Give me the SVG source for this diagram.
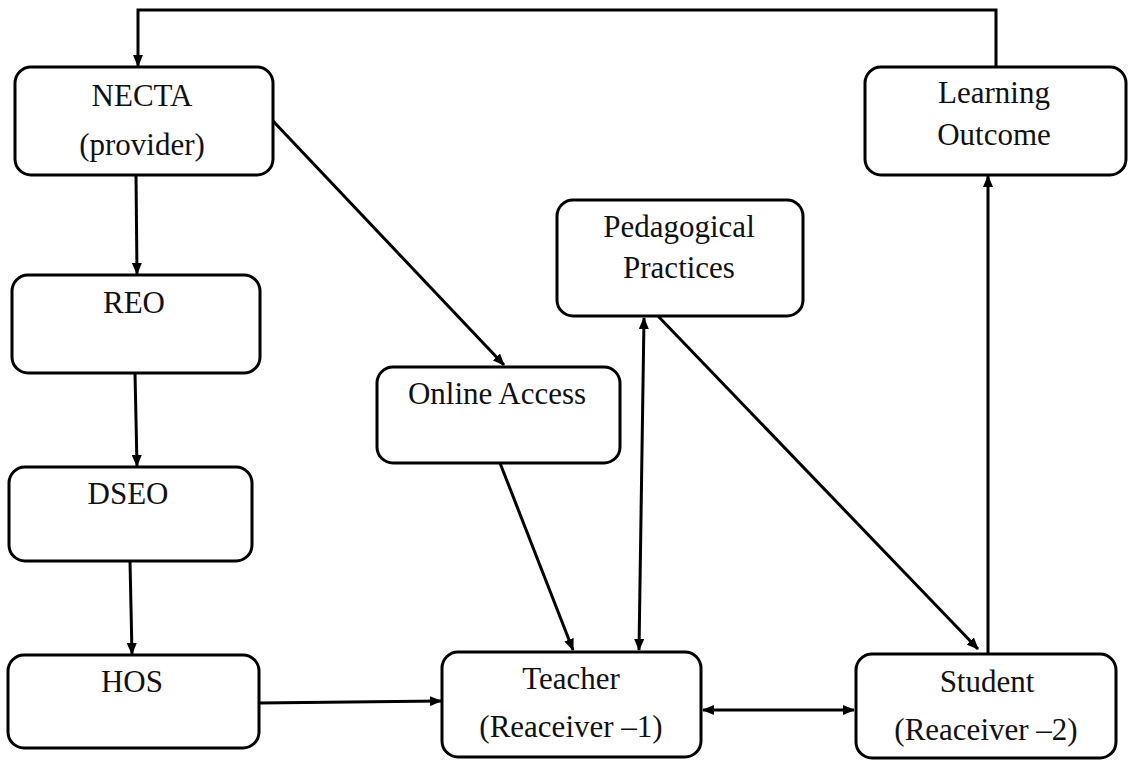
<svg xmlns="http://www.w3.org/2000/svg" width="1130" height="761" viewBox="0 0 1130 761">
<style>
.box{fill:#fff;stroke:#000;stroke-width:3}
.t{font-family:"Liberation Serif","Times New Roman",serif;font-size:31px;fill:#111;text-anchor:middle}
.c{fill:none;stroke:#000;stroke-width:3}
</style>
<defs>
<marker id="ah" markerUnits="userSpaceOnUse" markerWidth="12" markerHeight="10" refX="11" refY="5" orient="auto-start-reverse">
<path d="M0,0 L12,5 L0,10 z" fill="#000"/>
</marker>
</defs>
<rect width="1130" height="761" fill="#fff"/>
<g id="connectors">
<polyline class="c" points="996,67 996,10 138,10 138,66" marker-end="url(#ah)"/>
<line class="c" x1="136" y1="175" x2="137" y2="274" marker-end="url(#ah)"/>
<line class="c" x1="135" y1="373" x2="137" y2="466" marker-end="url(#ah)"/>
<line class="c" x1="130" y1="561" x2="132" y2="654" marker-end="url(#ah)"/>
<line class="c" x1="259" y1="703" x2="441" y2="701" marker-end="url(#ah)"/>
<line class="c" x1="273" y1="121" x2="504" y2="365" marker-end="url(#ah)"/>
<line class="c" x1="500" y1="463" x2="573" y2="650" marker-end="url(#ah)"/>
<line class="c" x1="644" y1="318" x2="639" y2="650" marker-start="url(#ah)" marker-end="url(#ah)"/>
<line class="c" x1="657" y1="315" x2="978" y2="649" marker-end="url(#ah)"/>
<line class="c" x1="703" y1="710" x2="854" y2="710" marker-start="url(#ah)" marker-end="url(#ah)"/>
<line class="c" x1="988" y1="654" x2="988" y2="176" marker-end="url(#ah)"/>
</g>
<g id="necta">
<rect class="box" x="15" y="67" width="258" height="108" rx="16"/>
<text class="t" x="142" y="106">NECTA</text>
<text class="t" x="142" y="155">(provider)</text>
</g>
<g id="learning-outcome">
<rect class="box" x="865" y="67" width="261" height="108" rx="16"/>
<text class="t" x="994" y="103">Learning</text>
<text class="t" x="994" y="145">Outcome</text>
</g>
<g id="pedagogical">
<rect class="box" x="557" y="200" width="246" height="116" rx="16"/>
<text class="t" x="679" y="237">Pedagogical</text>
<text class="t" x="679" y="278">Practices</text>
</g>
<g id="reo">
<rect class="box" x="12" y="275" width="248" height="98" rx="16"/>
<text class="t" x="134" y="313">REO</text>
</g>
<g id="online-access">
<rect class="box" x="377" y="367" width="243" height="96" rx="16"/>
<text class="t" x="497" y="404">Online Access</text>
</g>
<g id="dseo">
<rect class="box" x="9" y="467" width="243" height="94" rx="16"/>
<text class="t" x="128" y="504">DSEO</text>
</g>
<g id="hos">
<rect class="box" x="8" y="655" width="251" height="93" rx="16"/>
<text class="t" x="132" y="692">HOS</text>
</g>
<g id="teacher">
<rect class="box" x="442" y="652" width="259" height="105" rx="16"/>
<text class="t" x="571" y="689">Teacher</text>
<text class="t" x="571" y="737">(Reaceiver –1)</text>
</g>
<g id="student">
<rect class="box" x="856" y="654" width="260" height="104" rx="16"/>
<text class="t" x="987" y="692">Student</text>
<text class="t" x="986" y="740">(Reaceiver –2)</text>
</g>
</svg>
